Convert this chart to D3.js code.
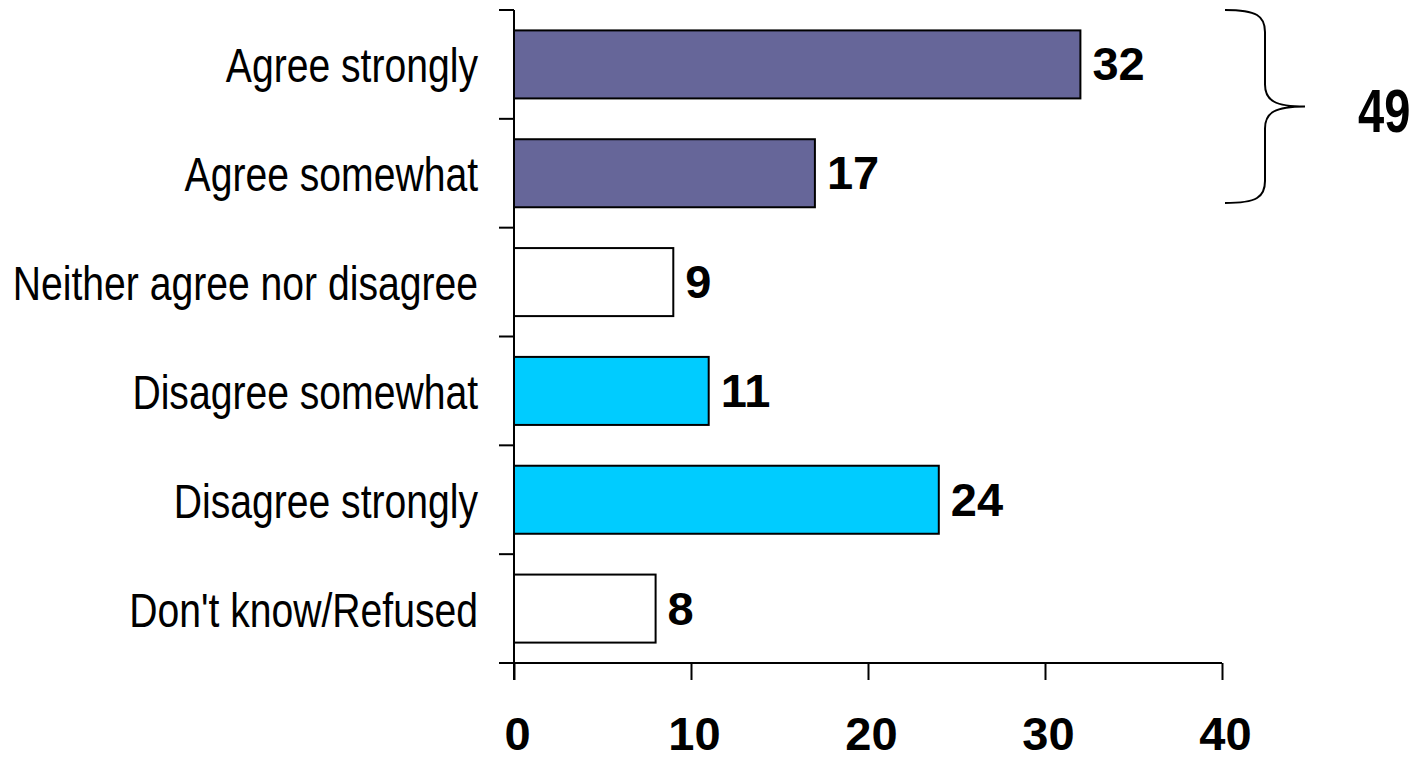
<!DOCTYPE html>
<html><head><meta charset="utf-8">
<script src="https://cdn.jsdelivr.net/npm/d3@7"></script>
<style>body{margin:0;background:#fff}</style>
</head><body>
<svg id="c" width="1420" height="760"></svg>
<script>
const categories = ["Agree strongly","Agree somewhat","Neither agree nor disagree","Disagree somewhat","Disagree strongly","Don't know/Refused"];
const values = [32,17,9,11,24,8];
const barColors = ["#666699","#666699","#ffffff","#00ccff","#00ccff","#ffffff"];
const xTicks = [0,10,20,30,40];
const bracketTotal = "49";

const svg = d3.select("#c");
const x = d3.scaleLinear().domain([0,40]).range([514,1222]);
const y = d3.scaleBand().domain(categories).range([10,663]).paddingInner(0.375).paddingOuter(0.1875);
const FONT = "Liberation Sans, Arial, sans-serif";

// bars
svg.selectAll("rect.bar").data(values).enter().append("rect")
  .attr("x", x(0)).attr("y",(d,i)=>y(categories[i]))
  .attr("width", d=>x(d)-x(0)).attr("height", y.bandwidth())
  .attr("fill",(d,i)=>barColors[i]).attr("stroke","#000").attr("stroke-width",2);

// value labels
svg.selectAll("text.val").data(values).enter().append("text")
  .attr("x", d=>x(d)+12).attr("y",(d,i)=>y(categories[i])+y.bandwidth()/2+16)
  .attr("font-family",FONT).attr("font-weight","bold")
  .attr("font-size",47).text(d=>d);

// y axis
const yAxisG = svg.append("g");
yAxisG.append("line").attr("x1",514).attr("x2",514).attr("y1",10).attr("y2",680).attr("stroke","#000").attr("stroke-width",2);
const step = y.step();
const bounds = d3.range(categories.length+1).map(i=>10+i*step);
yAxisG.selectAll("line.t").data(bounds).enter().append("line")
  .attr("x1",499).attr("x2",514).attr("y1",d=>d).attr("y2",d=>d).attr("stroke","#000").attr("stroke-width",2);
yAxisG.selectAll("text").data(categories).enter().append("text")
  .attr("transform",d=>`translate(478,${y(d)+y.bandwidth()/2+18}) scale(0.815,1)`)
  .attr("text-anchor","end")
  .attr("font-family",FONT)
  .attr("font-size",48).text(d=>d);

// x axis
const xAxisG = svg.append("g").attr("transform","translate(0,663)")
  .call(d3.axisBottom(x).tickValues(xTicks).tickSize(17).tickSizeOuter(0).tickPadding(37));
xAxisG.select(".domain").attr("d","M499,0H1222").attr("stroke","#000").attr("stroke-width",2);
xAxisG.selectAll(".tick line").attr("stroke","#000").attr("stroke-width",2);
xAxisG.selectAll(".tick text").attr("font-family",FONT).attr("font-weight","bold")
  .attr("font-size",47).attr("fill","#000").attr("dx",3);

// brace
const bx = 1225, bTop = 10, bBot = 203, bMid = (bTop+bBot)/2, vx = 1265, px = 1305;
const p = d3.path();
p.moveTo(bx, bTop);
p.bezierCurveTo(vx-8, bTop, vx, bTop+6, vx, bTop+22);
p.lineTo(vx, bMid-22);
p.bezierCurveTo(vx, bMid-6, vx+10, bMid, px, bMid);
p.bezierCurveTo(vx+10, bMid, vx, bMid+6, vx, bMid+22);
p.lineTo(vx, bBot-22);
p.bezierCurveTo(vx, bBot-6, vx-8, bBot, bx, bBot);
svg.append("path").attr("d",p.toString()).attr("fill","none").attr("stroke","#000").attr("stroke-width",2);
svg.append("text").attr("transform","translate(1358,132) scale(0.76,1)")
  .attr("font-family",FONT)
  .attr("font-weight","bold").attr("font-size",62).text(bracketTotal);
</script>
</body></html>
